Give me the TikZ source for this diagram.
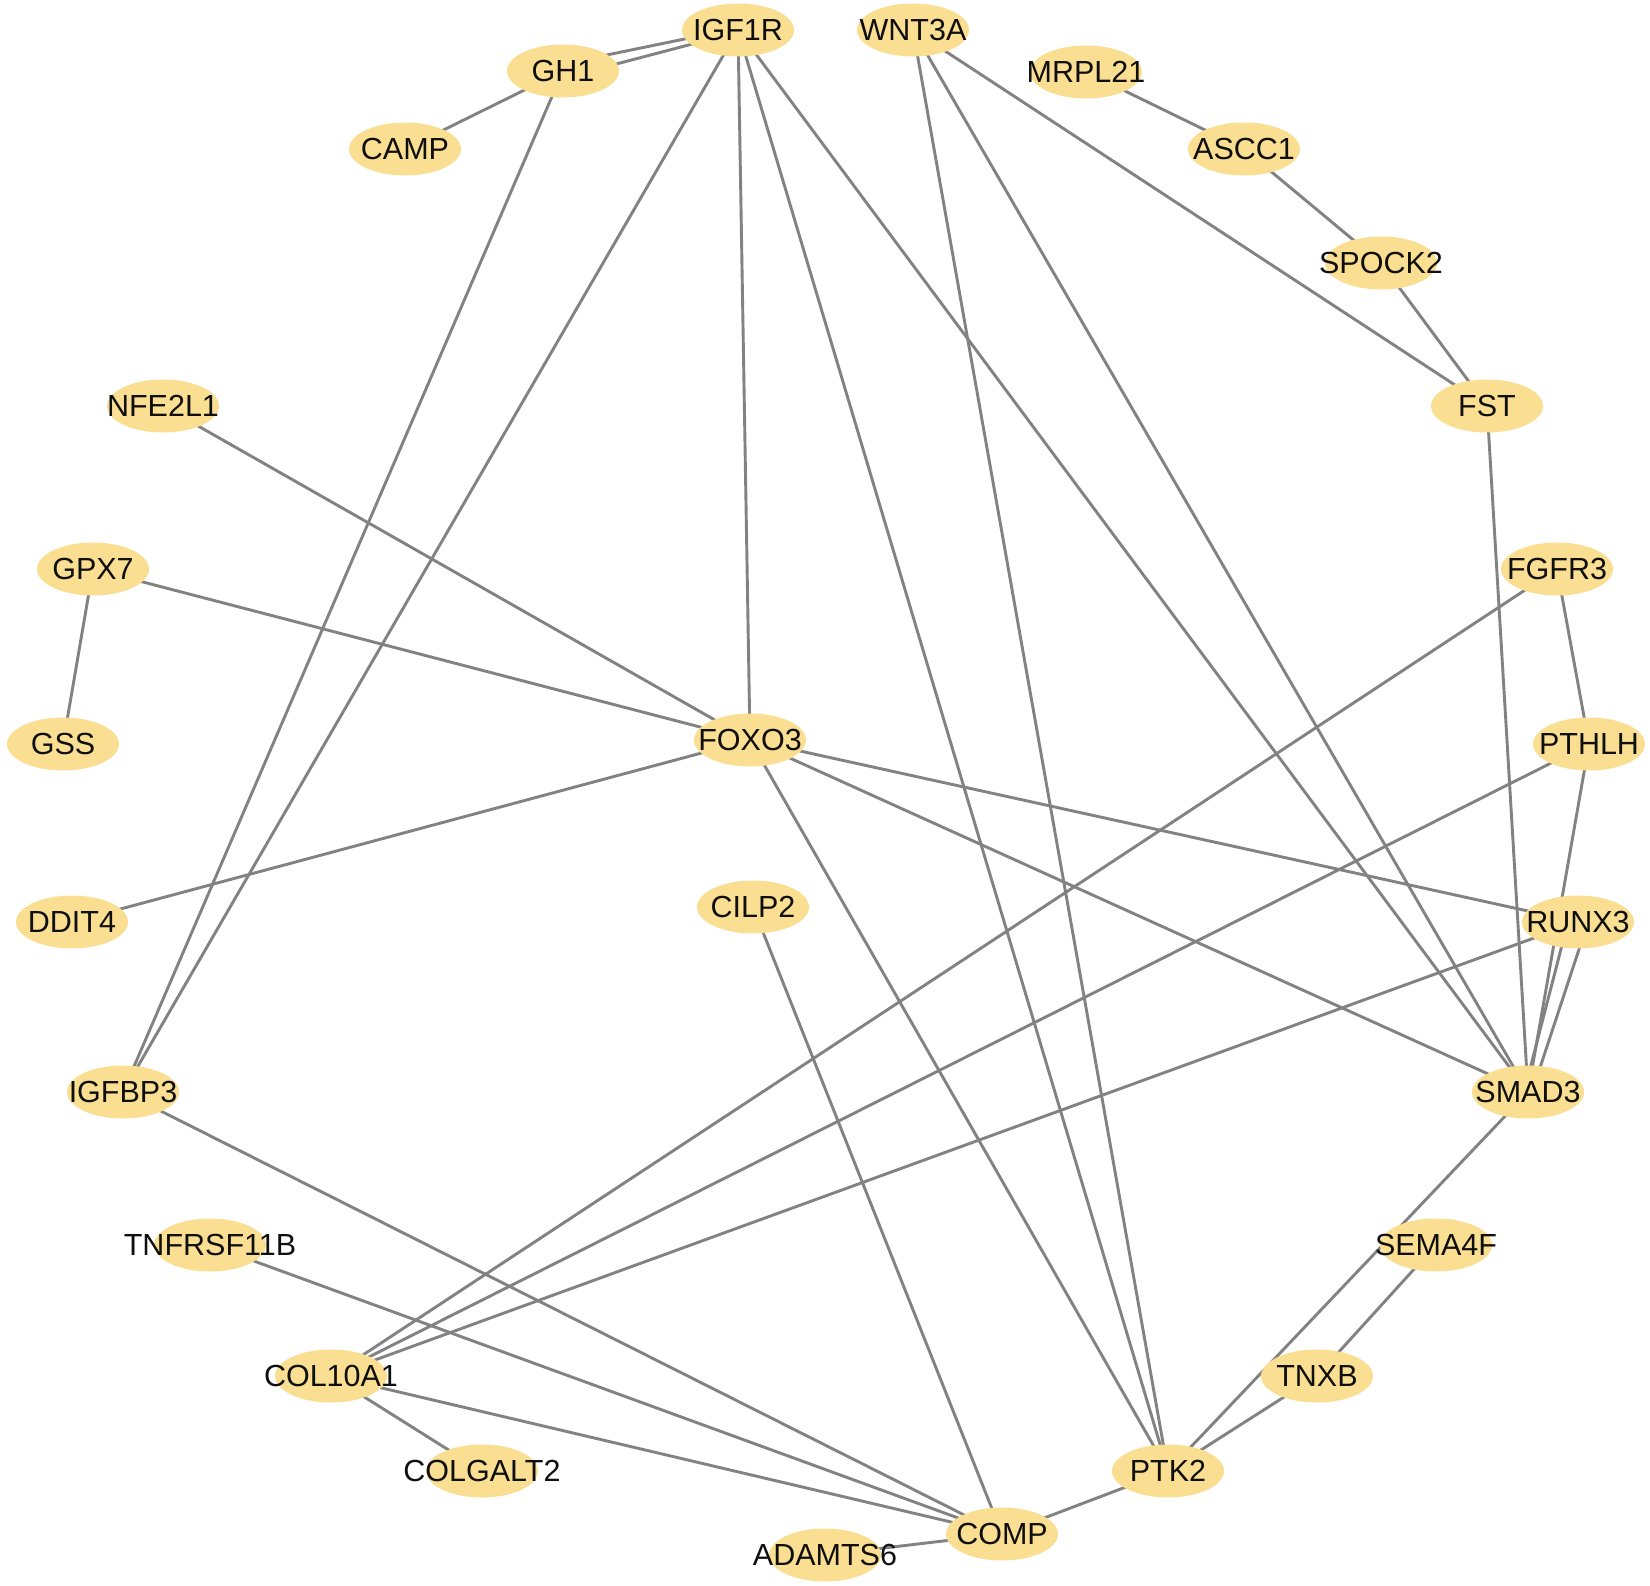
\documentclass[tikz,border=0pt]{standalone}
\usepackage{fontspec}
\setmainfont{Liberation Sans}
\usetikzlibrary{shapes.geometric,backgrounds}
\definecolor{nodefill}{RGB}{250,222,145}
\definecolor{edgegray}{RGB}{130,130,130}
\definecolor{labeltext}{RGB}{15,15,15}
\begin{document}
\begin{tikzpicture}[x=1pt,y=-1pt,
  gene/.style={ellipse,fill=nodefill,minimum width=112pt,minimum height=53pt,inner sep=0pt,
    text=labeltext,font=\fontsize{30.5}{36}\selectfont},
  link/.style={draw=edgegray,line width=2.9pt}]
\begin{scope}[on background layer]
\fill[white] (0,0) rectangle (1650,1586);
\end{scope}
\useasboundingbox (0,0) rectangle (1650,1586);
\node[gene] (IGF1R) at (738,30) {\makebox[0pt]{IGF1R}};
\node[gene] (WNT3A) at (913,30) {\makebox[0pt]{WNT3A}};
\node[gene] (GH1) at (563,71) {\makebox[0pt]{GH1}};
\node[gene] (MRPL21) at (1086,72) {\makebox[0pt]{MRPL21}};
\node[gene] (CAMP) at (405,149) {\makebox[0pt]{CAMP}};
\node[gene] (ASCC1) at (1244,149) {\makebox[0pt]{ASCC1}};
\node[gene] (SPOCK2) at (1381,263) {\makebox[0pt]{SPOCK2}};
\node[gene] (NFE2L1) at (163,406) {\makebox[0pt]{NFE2L1}};
\node[gene] (FST) at (1487,406) {\makebox[0pt]{FST}};
\node[gene] (GPX7) at (93,569) {\makebox[0pt]{GPX7}};
\node[gene] (FGFR3) at (1557,569) {\makebox[0pt]{FGFR3}};
\node[gene] (GSS) at (63,744) {\makebox[0pt]{GSS}};
\node[gene] (FOXO3) at (750,740) {\makebox[0pt]{FOXO3}};
\node[gene] (PTHLH) at (1589,744) {\makebox[0pt]{PTHLH}};
\node[gene] (DDIT4) at (72,922) {\makebox[0pt]{DDIT4}};
\node[gene] (CILP2) at (753,907) {\makebox[0pt]{CILP2}};
\node[gene] (RUNX3) at (1578,922) {\makebox[0pt]{RUNX3}};
\node[gene] (IGFBP3) at (123,1092) {\makebox[0pt]{IGFBP3}};
\node[gene] (SMAD3) at (1528,1092) {\makebox[0pt]{SMAD3}};
\node[gene] (TNFRSF11B) at (210,1245) {\makebox[0pt]{TNFRSF11B}};
\node[gene] (SEMA4F) at (1436,1245) {\makebox[0pt]{SEMA4F}};
\node[gene] (COL10A1) at (331,1376) {\makebox[0pt]{COL10A1}};
\node[gene] (TNXB) at (1317,1376) {\makebox[0pt]{TNXB}};
\node[gene] (COLGALT2) at (482,1471) {\makebox[0pt]{COLGALT2}};
\node[gene] (PTK2) at (1168,1471) {\makebox[0pt]{PTK2}};
\node[gene] (COMP) at (1002,1534) {\makebox[0pt]{COMP}};
\node[gene] (ADAMTS6) at (825,1555) {\makebox[0pt]{ADAMTS6}};
\begin{scope}[on background layer]
\draw[link] ([yshift=7pt]GH1.center) -- ([yshift=2pt]IGF1R.center);
\draw[link] ([yshift=-7pt]GH1.center) -- ([yshift=-2pt]IGF1R.center);
\draw[link] (GH1.center) -- (CAMP.center);
\draw[link] (GH1.center) -- (IGFBP3.center);
\draw[link] (IGF1R.center) -- (IGFBP3.center);
\draw[link] (IGF1R.center) -- (FOXO3.center);
\draw[link] (IGF1R.center) -- (PTK2.center);
\draw[link] (IGF1R.center) -- (SMAD3.center);
\draw[link] (WNT3A.center) -- (PTK2.center);
\draw[link] (WNT3A.center) -- (SMAD3.center);
\draw[link] (WNT3A.center) -- (FST.center);
\draw[link] (MRPL21.center) -- (ASCC1.center);
\draw[link] (ASCC1.center) -- (SPOCK2.center);
\draw[link] (SPOCK2.center) -- (FST.center);
\draw[link] (FST.center) -- (SMAD3.center);
\draw[link] (NFE2L1.center) -- (FOXO3.center);
\draw[link] (GPX7.center) -- (FOXO3.center);
\draw[link] (GPX7.center) -- (GSS.center);
\draw[link] (DDIT4.center) -- (FOXO3.center);
\draw[link] (FOXO3.center) -- (RUNX3.center);
\draw[link] (FOXO3.center) -- (SMAD3.center);
\draw[link] (FOXO3.center) -- (PTK2.center);
\draw[link] (FGFR3.center) -- (PTHLH.center);
\draw[link] (FGFR3.center) -- (COL10A1.center);
\draw[link] (PTHLH.center) -- (SMAD3.center);
\draw[link] (PTHLH.center) -- (COL10A1.center);
\draw[link] ([xshift=-10pt]RUNX3.center) -- ([xshift=-4pt]SMAD3.center);
\draw[link] ([xshift=10pt]RUNX3.center) -- ([xshift=4pt]SMAD3.center);
\draw[link] (RUNX3.center) -- (COL10A1.center);
\draw[link] (CILP2.center) -- (COMP.center);
\draw[link] (IGFBP3.center) -- (COMP.center);
\draw[link] (TNFRSF11B.center) -- (COMP.center);
\draw[link] (SMAD3.center) -- (PTK2.center);
\draw[link] (SEMA4F.center) -- (TNXB.center);
\draw[link] (TNXB.center) -- (PTK2.center);
\draw[link] (COL10A1.center) -- (COLGALT2.center);
\draw[link] (COL10A1.center) -- (COMP.center);
\draw[link] (PTK2.center) -- (COMP.center);
\draw[link] (COMP.center) -- (ADAMTS6.center);
\end{scope}
\end{tikzpicture}
\end{document}
